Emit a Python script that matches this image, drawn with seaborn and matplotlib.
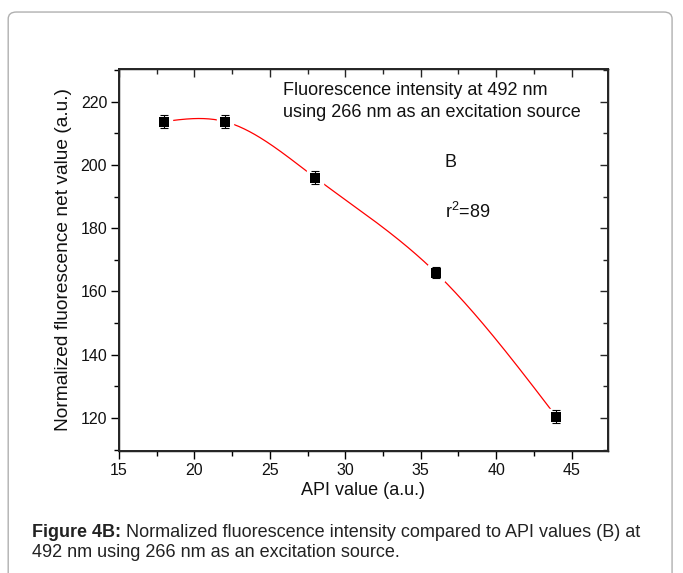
import numpy as np
import pandas as pd
import matplotlib.pyplot as plt
from matplotlib.patches import FancyBboxPatch
from matplotlib.ticker import MultipleLocator
import seaborn as sns

# data
api_values = [18, 22, 28, 36, 44]
fluorescence = [213.7, 213.7, 196.0, 166.0, 120.4]
errors = [2.0, 2.0, 2.0, 1.6, 2.0]


def natural_spline(x, y, n=300):
    # natural cubic spline through the points (the red connecting curve)
    x = np.asarray(x, float)
    y = np.asarray(y, float)
    k = len(x)
    h = np.diff(x)
    A = np.zeros((k, k))
    b = np.zeros(k)
    A[0, 0] = A[-1, -1] = 1
    for i in range(1, k - 1):
        A[i, i - 1] = h[i - 1]
        A[i, i] = 2 * (h[i - 1] + h[i])
        A[i, i + 1] = h[i]
        b[i] = 6 * ((y[i + 1] - y[i]) / h[i] - (y[i] - y[i - 1]) / h[i - 1])
    m = np.linalg.solve(A, b)
    xs = np.linspace(x[0], x[-1], n)
    idx = np.clip(np.searchsorted(x, xs) - 1, 0, k - 2)
    x0, x1 = x[idx], x[idx + 1]
    hh = x1 - x0
    t0, t1 = x1 - xs, xs - x0
    ys = (m[idx] * t0 ** 3 + m[idx + 1] * t1 ** 3) / (6 * hh) \
        + (y[idx] / hh - m[idx] * hh / 6) * t0 \
        + (y[idx + 1] / hh - m[idx + 1] * hh / 6) * t1
    return xs, ys


points = pd.DataFrame({"api": api_values, "value": fluorescence, "err": errors})
cx, cy = natural_spline(api_values, fluorescence)
curve = pd.DataFrame({"api": cx, "value": cy})

sns.set_theme(style="ticks")
plt.rcParams["font.family"] = ["Liberation Sans", "DejaVu Sans"]
plt.rcParams["mathtext.fontset"] = "custom"
plt.rcParams["mathtext.rm"] = "Liberation Sans"

fig = plt.figure(figsize=(6.83, 5.73), dpi=100)
ax = fig.add_axes([0.1742, 0.2129, 0.7156, 0.6667])

# outer rounded frame
frame = FancyBboxPatch((0.012, -0.05), 0.972, 1.029, boxstyle="round,pad=0,rounding_size=0.012",
                       transform=fig.transFigure, facecolor="none", edgecolor="#b0b0b0",
                       linewidth=1.0, clip_on=False)
fig.patches.append(frame)

sns.lineplot(data=curve, x="api", y="value", color="red", linewidth=0.9,
             sort=False, ax=ax, zorder=1)
# white halo so the curve stops short of each symbol
ax.plot(points["api"], points["value"], "s", color="white", markersize=12, zorder=2)
ax.errorbar(points["api"], points["value"], yerr=points["err"], fmt="none",
            ecolor="black", elinewidth=0.8, capsize=3, capthick=0.8, zorder=3)
sns.scatterplot(data=points, x="api", y="value", marker="s", color="black",
                s=50, edgecolor="black", linewidth=0, ax=ax, zorder=4)

ax.set_xlim(15, 47.4)
ax.set_ylim(109.6, 230.3)
ax.xaxis.set_major_locator(MultipleLocator(5))
ax.xaxis.set_minor_locator(MultipleLocator(2.5))
ax.yaxis.set_major_locator(MultipleLocator(20))
ax.yaxis.set_minor_locator(MultipleLocator(10))

for s in ax.spines.values():
    s.set_linewidth(1.0)
    s.set_color("black")
ax.tick_params(axis="both", which="both", direction="out", color="black",
               width=1.0, labelsize=11.5, labelcolor="#111111", pad=3)
ax.tick_params(axis="both", which="major", length=5.5)
ax.tick_params(axis="both", which="minor", length=3.5)

ax.set_xlabel("API value (a.u.)", fontsize=13, color="#111111", labelpad=3)
ax.set_ylabel("Normalized fluorescence net value (a.u.)", fontsize=13.8,
              color="#111111", labelpad=6)

ax.text(0.335, 0.966, "Fluorescence intensity at 492 nm\nusing 266 nm as an excitation source",
        transform=ax.transAxes, fontsize=13, va="top", ha="left",
        linespacing=1.35, color="#111111")
ax.text(0.667, 0.754, "B", transform=ax.transAxes, fontsize=13, va="center",
        color="#111111")
ax.text(0.668, 0.626, r"r$^{2}$=89", transform=ax.transAxes, fontsize=13,
        va="center", color="#111111")

# mirrored ticks on top/right pointing inward, like the original
ax2 = ax.twinx()
ax2.set_ylim(ax.get_ylim())
ax2.yaxis.set_major_locator(MultipleLocator(20))
ax2.yaxis.set_minor_locator(MultipleLocator(10))
ax2.tick_params(axis="y", which="both", direction="in", labelright=False, width=1.0)
ax2.tick_params(axis="y", which="major", length=5.5)
ax2.tick_params(axis="y", which="minor", length=3.5)
ax3 = ax.twiny()
ax3.set_xlim(ax.get_xlim())
ax3.xaxis.set_major_locator(MultipleLocator(5))
ax3.xaxis.set_minor_locator(MultipleLocator(2.5))
ax3.tick_params(axis="x", which="both", direction="in", labeltop=False, width=1.0)
ax3.tick_params(axis="x", which="major", length=5.5)
ax3.tick_params(axis="x", which="minor", length=3.5)

# caption: bold label followed by regular text
renderer = fig.canvas.get_renderer()
bold = fig.text(0.047, 0.071, "Figure 4B:", fontsize=13, fontweight="bold",
                color="#222222", va="center")
bx = bold.get_window_extent(renderer).x1 / fig.bbox.width
fig.text(bx, 0.071, " Normalized fluorescence intensity compared to API values (B) at",
         fontsize=13, color="#222222", va="center")
fig.text(0.047, 0.035, "492 nm using 266 nm as an excitation source.",
         fontsize=13, color="#222222", va="center")

fig.savefig("out.png", dpi=100)
